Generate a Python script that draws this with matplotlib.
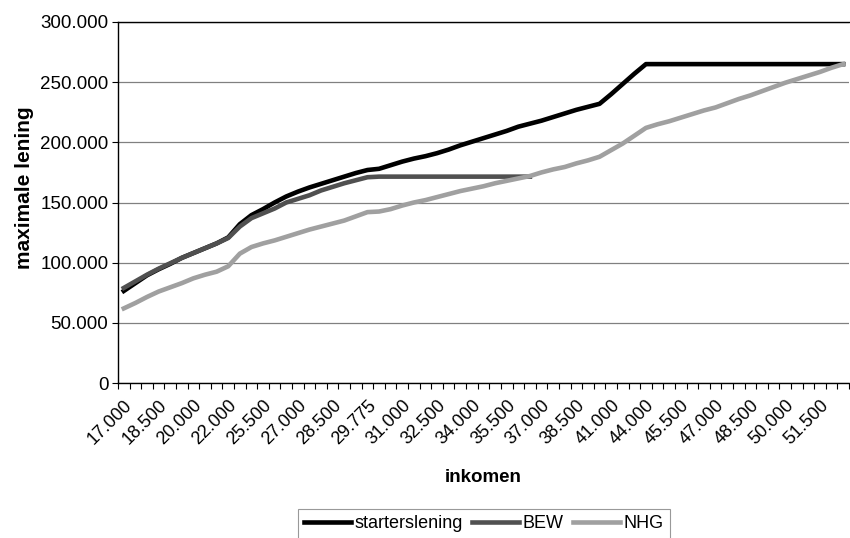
import numpy as np
import matplotlib
matplotlib.use('Agg')
import matplotlib.pyplot as plt

plt.rcParams['font.family'] = ['Liberation Sans', 'DejaVu Sans']

# inkomen (categorieen)
inkomen = [17000, 17500, 18000, 18500, 19000, 19500, 20000, 20500, 21000, 22000,
           23000, 24500, 25500, 26000, 26500, 27000, 27500, 28000, 28500, 29000,
           29500, 29775, 30000, 30500, 31000, 31500, 32000, 32500, 33000, 33500,
           34000, 34500, 35000, 35500, 36000, 36500, 37000, 37500, 38000, 38500,
           39000, 40000, 41000, 42000, 43000, 44000, 44500, 45000, 45500, 46000,
           46500, 47000, 47500, 48000, 48500, 49000, 49500, 50000, 50500, 51000,
           51500, 52000, 52500]

# maximale lening (x 1000)
starterslening = [76.5, 83, 89.5, 94.5, 99, 104, 108, 112, 116, 121,
                  132, 139.5, 144.5, 150, 155, 159, 162.5, 165.5, 168.5, 171.5,
                  174.5, 177, 178, 181, 184, 186.5, 188.5, 191, 194, 197.5,
                  200.5, 203.5, 206.5, 209.5, 213, 215.5, 218, 221, 224, 227,
                  229.5, 232, 240, 248.5, 257, 265, 265, 265, 265, 265,
                  265, 265, 265, 265, 265, 265, 265, 265, 265, 265,
                  265, 265, 265]
bew = [79, 84.5, 90, 95, 99.5, 104, 108, 112, 116, 120.5,
       130, 137, 141, 145, 150, 153, 156, 160, 163, 166,
       168.5, 171, 171.5, 171.5, 171.5, 171.5, 171.5, 171.5, 171.5, 171.5,
       171.5, 171.5, 171.5, 171.5, 171.5, 171.5] + [np.nan] * 27
nhg = [62, 66.5, 71.5, 76, 79.5, 83, 87, 90, 92.5, 97,
       107.5, 113, 116, 118.5, 121.5, 124.5, 127.5, 130, 132.5, 135,
       138.5, 142, 142.5, 144.5, 147.5, 150, 152, 154.5, 157, 159.5,
       161.5, 163.5, 166, 168, 170, 172, 175, 177.5, 179.5, 182.5,
       185, 188, 193.5, 199, 205.5, 212, 215, 217.5, 220.5, 223.5,
       226.5, 229, 232.5, 236, 239, 242.5, 246, 249.5, 252.5, 255.5,
       258.5, 262, 265]

yticks = [0, 50000, 100000, 150000, 200000, 250000, 300000]


def nl(v):
    return '{:,}'.format(int(v)).replace(',', '.')


fig = plt.figure(figsize=(8.5, 5.38), dpi=100)
ax = fig.add_axes([118 / 850, 1 - 383 / 538, 731 / 850, 361 / 538])

x = np.arange(len(inkomen))
ax.plot(x, np.array(starterslening) * 1000, color='#000000', lw=3.3, label='starterslening',
        solid_joinstyle='round')
ax.plot(x, np.array(bew) * 1000, color='#505050', lw=3.3, label='BEW', solid_joinstyle='round')
ax.plot(x, np.array(nhg) * 1000, color='#a0a0a0', lw=3.3, label='NHG', solid_joinstyle='round')

ax.set_xlim(-0.5, len(inkomen) - 0.5)
ax.set_ylim(0, 300000)
ax.set_yticks(yticks)
ax.set_yticklabels([nl(v) for v in yticks], fontsize=13.5)
ax.yaxis.grid(True, color='#808080', lw=0.9)
ax.set_axisbelow(True)

ax.set_xticks(x[::3])
ax.set_xticklabels([nl(v) for v in inkomen[::3]], rotation=45, ha='right',
                   rotation_mode='anchor', fontsize=13)
ax.set_xticks(np.arange(-0.5, len(inkomen), 1), minor=True)
ax.tick_params(axis='x', which='major', length=0, pad=10)
ax.tick_params(axis='x', which='minor', length=4, width=0.8, direction='out')
ax.tick_params(axis='y', length=4, width=0.8, direction='out', pad=3)

ax.spines['right'].set_visible(False)
ax.spines['top'].set_color('#000000')
for s in ['left', 'bottom', 'top']:
    ax.spines[s].set_linewidth(1)

ax.set_ylabel('maximale lening', fontsize=15, fontweight='bold')
ax.yaxis.set_label_coords(-0.115, 0.54)
fig.text(483 / 850, 1 - 478 / 538, 'inkomen', fontsize=13.5, fontweight='bold',
         ha='center', va='center')

leg = fig.legend(loc='center', bbox_to_anchor=(484 / 850, 1 - 524 / 538), ncol=3,
                 fontsize=13, frameon=True, fancybox=False, handlelength=2.6,
                 handletextpad=0.2, columnspacing=0.5, borderpad=0.35)
leg.get_frame().set_edgecolor('#808080')
leg.get_frame().set_linewidth(0.8)

fig.savefig('out.png', dpi=100)
